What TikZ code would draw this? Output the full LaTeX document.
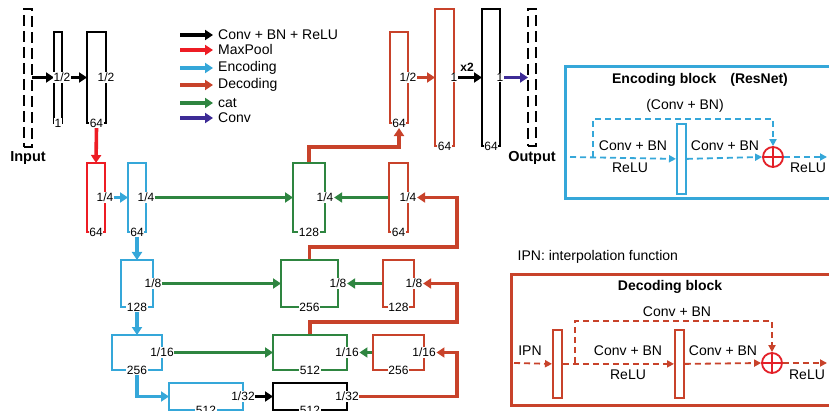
\documentclass[tikz,border=0pt]{standalone}
\usepackage{fontspec}
\setmainfont{Liberation Sans}
\usetikzlibrary{arrows.meta,calc}
\definecolor{cmp}{HTML}{ED1C24}
\definecolor{cenc}{HTML}{35A7D9}
\definecolor{cdec}{HTML}{C8422A}
\definecolor{ccat}{HTML}{2E8540}
\definecolor{cconv}{HTML}{3D2B96}
\definecolor{cplus}{HTML}{E32028}
\pgfdeclarelayer{bg}
\pgfsetlayers{bg,main}
\newcommand\mkbox[8]{%
  \node[bx=#2,minimum width={(#5-#3)*1pt},minimum height={(#6-#4)*1pt}] (#1) at (#3,#4) {};
  \node[lab] (#1l) at (#1.east) {#7};
  \node[lab] (#1b) at (#1.south) {#8};}
\begin{document}
\begin{tikzpicture}[x=1pt,y=-1pt,
  bx/.style={draw=#1,line width=1.8pt,inner sep=0,outer sep=0,anchor=north west},
  lab/.style={fill=white,inner sep=0.6pt,font=\fontsize{12}{12}\selectfont},
  con/.style={line width=3.6pt,draw=#1,-{Triangle[length=8pt,width=10pt]}},
  conp/.style={line width=3.6pt,draw=#1},
  legtxt/.style={anchor=west,inner xsep=5pt,inner ysep=1pt,font=\fontsize{14}{14}\selectfont},
  txt/.style={inner sep=0.5pt,font=\fontsize{14}{14}\selectfont},
  ttl/.style={inner sep=0.5pt,font=\fontsize{14}{14}\selectfont\bfseries},
  dsh/.style={draw=#1,line width=1.8pt,dash pattern=on 6pt off 4pt},
  dar/.style={dsh=#1,-{Triangle[length=7pt,width=7pt]}},
  iobox/.style={draw=black,line width=2pt,dash pattern=on 11pt off 5pt,inner sep=0,outer sep=0,anchor=north west},
  plus/.style={circle,draw=cplus,line width=1.8pt,minimum size=20pt,inner sep=0,fill=white},
  blk/.style={draw=#1,line width=3pt,inner sep=0,anchor=north west},
  thin/.style={draw=#1,line width=1.8pt,inner sep=0,anchor=north west,minimum width=9pt,fill=white}
]
\useasboundingbox (0,0) rectangle (829,411);
\clip (0,0) rectangle (829,411);

% ---------- legend ----------
\foreach \i/\y/\c/\t in {1/35/black/{Conv + BN + ReLU},2/50/cmp/MaxPool,3/68/cenc/Encoding,4/85/cdec/Decoding,5/103/ccat/cat,6/118/cconv/Conv}{
  \coordinate (ls\i) at (180,\y);
  \node[legtxt] (lt\i) at (213,\y) {\t};
  \draw[con=\c] (ls\i) -- (lt\i.west);
}

% ---------- input / output ----------
\node[iobox,minimum width=8pt,minimum height=138pt] (inp) at (24,9) {};
\node[ttl,font=\fontsize{14.5}{14.5}\selectfont\bfseries] (inpt) at (28,158) {Input};
\node[iobox,minimum width=8pt,minimum height=137pt] (outp) at (528,9) {};
\node[ttl,font=\fontsize{14.5}{14.5}\selectfont\bfseries] (outpt) at (532,158) {Output};

% ---------- boxes ----------
\mkbox{b1}{black}{54}{32}{62}{123}{1/2}{1}
\mkbox{b2}{black}{87}{32}{106}{123}{1/2}{64}
\mkbox{m1}{cmp}{87}{163}{105}{232}{1/4}{64}
\mkbox{e1}{cenc}{128}{163}{146}{232}{1/4}{64}
\mkbox{e2}{cenc}{121}{260}{153}{307}{1/8}{128}
\mkbox{e3}{cenc}{112}{335}{162}{370}{1/16}{256}
\mkbox{e4}{cenc}{169}{383}{243}{410}{1/32}{512}
\mkbox{c5}{black}{273}{383}{347}{410}{1/32}{512}
\mkbox{g4}{ccat}{273}{335}{347}{370}{1/16}{512}
\mkbox{g3}{ccat}{281}{260}{338}{307}{1/8}{256}
\mkbox{g2}{ccat}{293}{163}{325}{232}{1/4}{128}
\mkbox{d4}{cdec}{373}{335}{424}{370}{1/16}{256}
\mkbox{d3}{cdec}{383}{260}{414}{307}{1/8}{128}
\mkbox{d2}{cdec}{389}{163}{408}{232}{1/4}{64}
\mkbox{d1}{cdec}{390}{32}{408}{123}{1/2}{64}
\mkbox{d0}{cdec}{435}{9}{454}{146}{1}{64}
\mkbox{c0}{black}{482}{9}{500}{146}{1}{64}
\node[inner sep=0.5pt,font=\fontsize{12}{12}\selectfont\bfseries] (x2) at (467,67) {x2};

\coordinate (rx) at (457,0);
\coordinate (h4) at (0,322);
\coordinate (h3) at (0,247);
\coordinate (h2) at (0,147);

\begin{pgfonlayer}{bg}
% encoder path
\draw[con=black] (inp.east |- b1.west) -- (b1.west);
\draw[con=black] (b1l.east) -- (b2.west);
\draw[con=cmp] (b2b.south) -- (m1.north);
\draw[con=cenc] (m1l.east) -- (e1.west);
\draw[con=cenc] (e1b.south) -- (e2.north);
\draw[con=cenc] (e2b.south) -- (e3.north);
\draw[con=cenc,rounded corners=0pt] (e3b.south) |- (e4.west);
\draw[con=black] (e4l.east) -- (c5.west);
% skip connections
\draw[con=ccat] (e1l.east) -- (g2.west);
\draw[con=ccat] (e2l.east) -- (g3.west);
\draw[con=ccat] (e3l.east) -- (g4.west);
\draw[con=ccat] (d2.west) -- (g2l.east);
\draw[con=ccat] (d3.west) -- (g3l.east);
\draw[con=ccat] (d4.west) -- (g4l.east);
% decoder path
\draw[con=cdec] (c5l.east) -- (c5l.east -| rx) -- (d4l.east -| rx) -- (d4l.east);
\draw[con=cdec] (g4.north) -- (g4.north |- h4) -- (h4 -| rx) -- (d3l.east -| rx) -- (d3l.east);
\draw[con=cdec] (g3.north) -- (g3.north |- h3) -- (h3 -| rx) -- (d2l.east -| rx) -- (d2l.east);
\draw[con=cdec] (g2.north) -- (g2.north |- h2) -- (h2 -| d1b.south) -- (d1b.south);
\draw[con=cdec] (d1l.east) -- (d0.west);
\draw[con=black] (d0l.east) -- (c0.west);
\draw[con=cconv] (c0l.east) -- (outp.west |- c0l.east);
\end{pgfonlayer}

% ---------- encoding block ----------
\node[blk=cenc,minimum width=275pt,minimum height=132pt] (eblk) at (564,65) {};
\node[ttl] (etitle) at (700,80) {Encoding block\quad(ResNet)};
\node[txt] (eskt) at (685,106) {(Conv + BN)};
\node[thin=cenc,minimum height=70pt] (et) at (676,123) {};
\node[plus] (ec) at (773,157) {};
\draw[cplus,line width=1.8pt] (ec.north) -- (ec.south) (ec.west) -- (ec.east);
\coordinate (ein) at (570,157);
\coordinate (esk) at (593,157);
\coordinate (etop) at (593,119);
\coordinate (eout) at (827,157);
\draw[dar=cenc] (ein) -- (et.west);
\draw[dar=cenc] (esk) -- (etop) -- (etop -| ec.north) -- (ec.north);
\draw[dar=cenc] (et.east) -- (ec.west);
\draw[dar=cenc] (ec.east) -- (eout);
\node[txt] (ec1) at (633,146) {Conv + BN};
\node[txt] (er1) at (630,168) {ReLU};
\node[txt] (ec2) at (725,146) {Conv + BN};
\node[txt] (er2) at (808,168) {ReLU};

% ---------- decoding block ----------
\node[txt,anchor=west] (ipn) at (517,257) {IPN: interpolation function};
\node[blk=cdec,minimum width=330pt,minimum height=131pt] (dblk) at (510,273) {};
\node[ttl] (dtitle) at (670,287) {Decoding block};
\node[txt] (dskt) at (677,312) {Conv + BN};
\node[thin=cdec,minimum height=68pt] (dt1) at (552,329) {};
\node[thin=cdec,minimum height=68pt] (dt2) at (674,329) {};
\node[plus] (dc) at (772,363) {};
\draw[cplus,line width=1.8pt] (dc.north) -- (dc.south) (dc.west) -- (dc.east);
\coordinate (din) at (514,363);
\coordinate (dsk) at (575,363);
\coordinate (dtop) at (575,321);
\coordinate (dout) at (827,363);
\draw[dar=cdec] (din) -- (dt1.west);
\draw[dar=cdec] (dt1.east) -- (dt2.west);
\draw[dar=cdec] (dsk) -- (dtop) -- (dtop -| dc.north) -- (dc.north);
\draw[dar=cdec] (dt2.east) -- (dc.west);
\draw[dar=cdec] (dc.east) -- (dout);
\node[txt] (dipn) at (530,351) {IPN};
\node[txt] (dc1) at (628,351) {Conv + BN};
\node[txt] (dr1) at (628,375) {ReLU};
\node[txt] (dc2) at (723,351) {Conv + BN};
\node[txt] (dr2) at (807,375) {ReLU};
\end{tikzpicture}
\end{document}
